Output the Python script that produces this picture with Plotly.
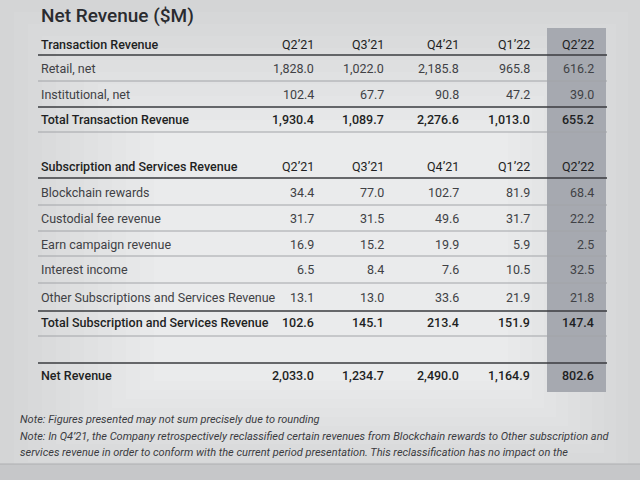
import plotly.graph_objects as go

title = "Net Revenue ($M)"
quarters = ["Q2\u201921", "Q3\u201921", "Q4\u201921", "Q1\u201922", "Q2\u201922"]

tx_header = "Transaction Revenue"
tx_labels = ["Retail, net", "Institutional, net"]
tx_values = [
    [1828.0, 1022.0, 2185.8, 965.8, 616.2],
    [102.4, 67.7, 90.8, 47.2, 39.0],
]
tx_total_label = "Total Transaction Revenue"
tx_total = [1930.4, 1089.7, 2276.6, 1013.0, 655.2]

ss_header = "Subscription and Services Revenue"
ss_labels = ["Blockchain rewards", "Custodial fee revenue", "Earn campaign revenue",
             "Interest income", "Other Subscriptions and Services Revenue"]
ss_values = [
    [34.4, 77.0, 102.7, 81.9, 68.4],
    [31.7, 31.5, 49.6, 31.7, 22.2],
    [16.9, 15.2, 19.9, 5.9, 2.5],
    [6.5, 8.4, 7.6, 10.5, 32.5],
    [13.1, 13.0, 33.6, 21.9, 21.8],
]
ss_total_label = "Total Subscription and Services Revenue"
ss_total = [102.6, 145.1, 213.4, 151.9, 147.4]

net_label = "Net Revenue"
net_total = [2033.0, 1234.7, 2490.0, 1164.9, 802.6]

notes = [
    "Note: Figures presented may not sum precisely due to rounding",
    "Note: In Q4\u201921, the Company retrospectively reclassified certain revenues from Blockchain rewards to Other subscription and",
    "services revenue in order to conform with the current period presentation. This reclassification has no impact on the",
]

# ---- layout geometry (pixels) ----
FONT = "Roboto"
col_x = [316, 386, 461, 532, 596]
label_x = 39
line_x0, line_x1 = 38, 607
shade_x0, shade_x1 = 547, 606
TXT = "#404145"
DARK = "#1e1f23"
SIZE = 12.5

fig = go.Figure()
ann = []
shapes = []

# background (photo-like soft lighting: concentric steps)
steps = 12
for i in range(steps):
    t = i / (steps - 1)
    g = int(212 + (234 - 212) * t)
    shapes.append(dict(type="rect", x0=0 + 14 * i, x1=640 - 12 * i, y0=0 + 12 * i, y1=480 - 9 * i,
                       fillcolor=f"rgb({g},{g+1},{g+2})", line_width=0, layer="below"))
shapes.append(dict(type="rect", x0=0, x1=640, y0=464, y1=480, fillcolor="#c6c7c9", line_width=0, layer="below"))
shapes.append(dict(type="line", x0=0, x1=640, y0=464, y1=464, line=dict(color="#aeafb2", width=1)))
# shaded current-quarter column
shapes.append(dict(type="rect", x0=shade_x0, x1=shade_x1, y0=28, y1=392, fillcolor="#a6a9b0", line_width=0, layer="below"))


def fmt(v):
    return f"{v:,.1f}"


def text(x, y, s, size=SIZE, color=TXT, weight=400, anchor="left", italic=False):
    ann.append(dict(x=x, y=y, xref="x", yref="y", text=s, showarrow=False,
                    xanchor=anchor, yanchor="middle",
                    font=dict(family=FONT, size=size, color=color, weight=weight,
                              style="italic" if italic else "normal")))


def hline(y, color="#a2a4a8", width=1, x0=line_x0, x1=line_x1):
    shapes.append(dict(type="line", x0=x0, x1=x1, y0=y, y1=y, line=dict(color=color, width=width)))


def row(y, label, values, weight=400, color=TXT):
    text(label_x, y, label, weight=weight, color=color)
    for cx, v in zip(col_x, values):
        text(cx, y, fmt(v), weight=weight, color=color, anchor="right")


def header(y, label):
    text(label_x, y, label, weight=500, color=DARK, size=12.5)
    for cx, q in zip(col_x, quarters):
        text(cx, y, q, color=DARK, anchor="right")


text(label_x, 15, title, size=19, color="#2a2b2f", weight=500)

# Transaction section
header(44, tx_header)
hline(55, color="#3a3b3f", width=1.5)
tx_rows_y = [68, 94]
for y, lab, vals in zip(tx_rows_y, tx_labels, tx_values):
    row(y, lab, vals)
hline(81)
hline(107, color="#3a3b3f", width=1.5)
row(119, tx_total_label, tx_total, weight=500, color=DARK)
hline(132)

# Subscription section
header(166, ss_header)
hline(178, color="#3a3b3f", width=1.5)
ss_rows_y = [192, 218, 244, 269, 297]
for y, lab, vals in zip(ss_rows_y, ss_labels, ss_values):
    row(y, lab, vals)
for y in [205, 231, 256, 283]:
    hline(y)
hline(311, color="#3a3b3f", width=1.5)
row(322, ss_total_label, ss_total, weight=500, color=DARK)
hline(336)

# Net revenue
hline(363, color="#3a3b3f", width=1.5)
row(375, net_label, net_total, weight=500, color=DARK)

# notes
for y, n in zip([419, 436, 452], notes):
    text(18, y, n, size=11, color="#3a3b3f", italic=True)

fig.update_layout(
    width=640, height=480,
    margin=dict(l=0, r=0, t=0, b=0),
    paper_bgcolor="#d4d5d7", plot_bgcolor="#d4d5d7",
    xaxis=dict(range=[0, 640], visible=False, fixedrange=True),
    yaxis=dict(range=[480, 0], visible=False, fixedrange=True),
    annotations=ann, shapes=shapes, showlegend=False,
)
fig.write_html("out.html", config={"displayModeBar": False},
               post_script="document.body.style.margin='0';document.body.style.overflow='hidden';")
